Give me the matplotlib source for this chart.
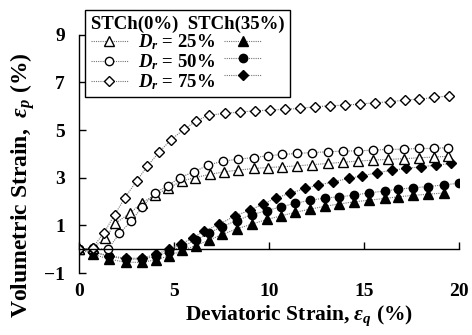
import numpy as np
import matplotlib
matplotlib.use('Agg')
import matplotlib.pyplot as plt

plt.rcParams['font.family'] = 'Liberation Serif'
plt.rcParams['font.weight'] = 'bold'
plt.rcParams['axes.labelweight'] = 'bold'
plt.rcParams['mathtext.fontset'] = 'custom'
plt.rcParams['mathtext.rm'] = 'Liberation Serif:bold'
plt.rcParams['mathtext.it'] = 'Liberation Serif:italic:bold'
plt.rcParams['mathtext.bf'] = 'Liberation Serif:bold'

# STCh(0%) - open markers
x_open_25 = [0, 0.72, 1.39, 1.91, 2.67, 3.32, 4.0, 4.67, 5.44, 6.14, 6.89, 7.65, 8.4, 9.2, 9.95,
             10.7, 11.5, 12.3, 13.1, 13.9, 14.7, 15.5, 16.3, 17.1, 17.9, 18.7, 19.45]
y_open_25 = [0, 0.05, 0.45, 1.08, 1.5, 1.95, 2.27, 2.55, 2.87, 3.01, 3.14, 3.25, 3.32, 3.39, 3.43,
             3.46, 3.5, 3.55, 3.6, 3.65, 3.7, 3.74, 3.77, 3.8, 3.84, 3.87, 3.9]

x_open_50 = [0, 0.72, 1.53, 2.14, 2.75, 3.35, 4.0, 4.67, 5.32, 6.07, 6.8, 7.6, 8.4, 9.2, 9.95,
             10.7, 11.5, 12.3, 13.1, 13.9, 14.7, 15.5, 16.3, 17.1, 17.9, 18.7, 19.45]
y_open_50 = [0, 0.03, 0.0, 0.66, 1.18, 1.78, 2.37, 2.65, 3.01, 3.25, 3.53, 3.7, 3.78, 3.85, 3.92,
             3.98, 4.02, 4.06, 4.09, 4.12, 4.13, 4.16, 4.19, 4.2, 4.23, 4.23, 4.27]

x_open_75 = [0, 0.72, 1.33, 1.89, 2.43, 3.04, 3.61, 4.23, 4.83, 5.53, 6.19, 6.85, 7.68, 8.47, 9.26,
             10.05, 10.84, 11.63, 12.42, 13.2, 14.0, 14.79, 15.58, 16.37, 17.16, 17.91, 18.7, 19.49]
y_open_75 = [0, 0.05, 0.7, 1.45, 2.17, 2.86, 3.49, 4.08, 4.58, 5.03, 5.39, 5.63, 5.7, 5.76, 5.81,
             5.84, 5.87, 5.91, 5.98, 6.02, 6.05, 6.09, 6.15, 6.19, 6.26, 6.3, 6.37, 6.44]

# STCh(35%) - filled markers
x_fill_25 = [0, 0.72, 1.6, 2.5, 3.3, 4.05, 4.75, 5.45, 6.15, 6.85, 7.55, 8.3, 9.1, 9.9, 10.65,
             11.4, 12.15, 12.95, 13.7, 14.5, 15.3, 16.1, 16.8, 17.6, 18.4, 19.2]
y_fill_25 = [0, -0.2, -0.42, -0.55, -0.55, -0.45, -0.28, -0.05, 0.15, 0.38, 0.62, 0.85, 1.05, 1.25, 1.4,
             1.55, 1.68, 1.8, 1.9, 1.99, 2.06, 2.13, 2.2, 2.26, 2.31, 2.36]

x_fill_50 = [0, 0.72, 1.6, 2.5, 3.3, 4.05, 4.75, 5.45, 6.15, 6.85, 7.55, 8.3, 9.1, 9.9, 10.65,
             11.4, 12.15, 12.95, 13.7, 14.5, 15.3, 16.1, 16.8, 17.6, 18.4, 19.2, 20.0]
y_fill_50 = [0, -0.12, -0.3, -0.42, -0.42, -0.3, -0.1, 0.12, 0.38, 0.68, 0.95, 1.2, 1.45, 1.62, 1.78,
             1.93, 2.05, 2.15, 2.2, 2.27, 2.37, 2.44, 2.52, 2.58, 2.63, 2.7, 2.77]

x_fill_75 = [0, 0.72, 1.6, 2.5, 3.3, 4.05, 4.75, 5.4, 6.0, 6.6, 7.4, 8.2, 9.0, 9.7, 10.4,
             11.1, 11.9, 12.6, 13.4, 14.2, 14.9, 15.7, 16.5, 17.2, 18.0, 18.8, 19.6]
y_fill_75 = [0, -0.1, -0.28, -0.38, -0.38, -0.22, 0.0, 0.22, 0.48, 0.76, 1.05, 1.39, 1.64, 1.89, 2.16,
             2.34, 2.55, 2.69, 2.83, 2.97, 3.08, 3.21, 3.32, 3.39, 3.46, 3.53, 3.6]

dr_labels = ['$D_r$ = 25%', '$D_r$ = 50%', '$D_r$ = 75%']
markers = ['^', 'o', 'D']
msizes = [6.5, 6.0, 5.0]

fig = plt.figure(figsize=(4.72, 3.35), dpi=100)
ax = fig.add_axes([0.167, 0.185, 0.805, 0.711])

line_kw = dict(color='0.45', linestyle=(0, (1, 1)), linewidth=0.8, markeredgecolor='black',
               markeredgewidth=1.0)

open_sets = [(x_open_25, y_open_25), (x_open_50, y_open_50), (x_open_75, y_open_75)]
fill_sets = [(x_fill_25, y_fill_25), (x_fill_50, y_fill_50), (x_fill_75, y_fill_75)]

h_open, h_fill = [], []
for (xs, ys), m, ms in zip(fill_sets, markers, msizes):
    h, = ax.plot(xs, ys, marker=m, markersize=ms, markerfacecolor='black', **line_kw)
    h_fill.append(h)
for (xs, ys), m, ms in zip(open_sets, markers, msizes):
    h, = ax.plot(xs, ys, marker=m, markersize=ms, markerfacecolor='white', **line_kw)
    h_open.append(h)

ax.set_xlim(0, 20)
ax.set_ylim(-1, 9)
ax.set_xticks([0, 5, 10, 15, 20])
ax.set_yticks([-1, 1, 3, 5, 7, 9])

ax.spines['top'].set_visible(False)
ax.spines['right'].set_visible(False)
ax.spines['bottom'].set_position(('data', 0))
ax.tick_params(axis='x', direction='in', length=5, width=1, pad=24, labelsize=14)
ax.tick_params(axis='y', direction='in', length=5, width=1, pad=10, labelsize=14)
for s in ['left', 'bottom']:
    ax.spines[s].set_linewidth(1)

ax.set_xlabel(r'Deviatoric Strain, $\varepsilon_q$ (%)', fontsize=15.5)
ax.set_ylabel(r'Volumetric Strain,  $\varepsilon_p$ (%)', fontsize=17)
ax.xaxis.set_label_coords(0.58, -0.126)
ax.yaxis.set_label_coords(-0.11, 0.37)

leg = ax.legend(h_open + h_fill, dr_labels + ['', '', ''], ncol=2,
                title='STCh(0%)  STCh(35%)', alignment='left',
                loc='upper left', bbox_to_anchor=(0.016, 1.105), borderaxespad=0,
                fancybox=False, edgecolor='black', framealpha=1, fontsize=13.5,
                title_fontsize=13.5, handlelength=2.0, handletextpad=0.55,
                columnspacing=0.45, labelspacing=0.0, borderpad=0.3)
leg.get_frame().set_linewidth(1)
leg.get_title().set_fontweight('bold')

fig.savefig('out.png', dpi=100)
